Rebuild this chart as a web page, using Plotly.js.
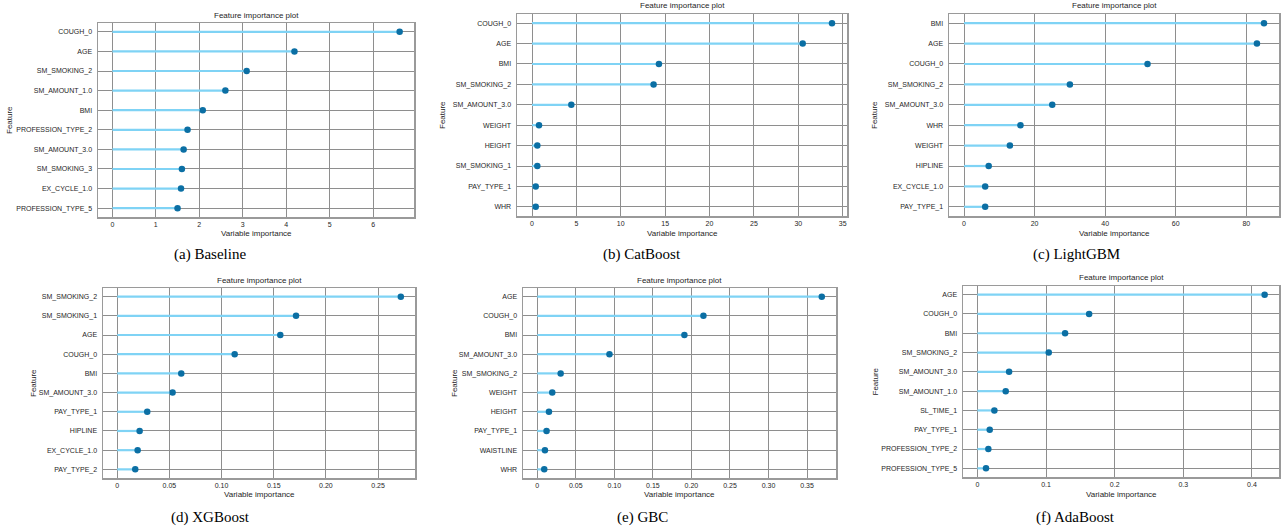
<!DOCTYPE html>
<html>
<head>
<meta charset="utf-8">
<script src="https://cdn.plot.ly/plotly-3.0.1.min.js"></script>
<style>html,body{margin:0;padding:0;background:#fff;}#chart{width:1284px;height:529px;}</style>
</head>
<body>
<div id="chart"></div>
<script>
// ---- data ----
const featA = ['COUGH_0','AGE','SM_SMOKING_2','SM_AMOUNT_1.0','BMI','PROFESSION_TYPE_2','SM_AMOUNT_3.0','SM_SMOKING_3','EX_CYCLE_1.0','PROFESSION_TYPE_5'];
const valA  = [6.61,4.19,3.09,2.60,2.08,1.73,1.64,1.60,1.58,1.50];
const featB = ['COUGH_0','AGE','BMI','SM_SMOKING_2','SM_AMOUNT_3.0','WEIGHT','HEIGHT','SM_SMOKING_1','PAY_TYPE_1','WHR'];
const valB  = [33.8,30.5,14.3,13.7,4.43,0.79,0.60,0.60,0.42,0.42];
const featC = ['BMI','AGE','COUGH_0','SM_SMOKING_2','SM_AMOUNT_3.0','WHR','WEIGHT','HIPLINE','EX_CYCLE_1.0','PAY_TYPE_1'];
const valC  = [85,83,52,30,25,16,13,7,6,6];
const featD = ['SM_SMOKING_2','SM_SMOKING_1','AGE','COUGH_0','BMI','SM_AMOUNT_3.0','PAY_TYPE_1','HIPLINE','EX_CYCLE_1.0','PAY_TYPE_2'];
const valD  = [0.2718,0.1714,0.1563,0.1126,0.0614,0.0531,0.0288,0.0215,0.0196,0.0173];
const featE = ['AGE','COUGH_0','BMI','SM_AMOUNT_3.0','SM_SMOKING_2','WEIGHT','HEIGHT','PAY_TYPE_1','WAISTLINE','WHR'];
const valE  = [0.3691,0.2156,0.1909,0.0937,0.0304,0.0195,0.0152,0.0121,0.0100,0.0091];
const featF = ['AGE','COUGH_0','BMI','SM_SMOKING_2','SM_AMOUNT_3.0','SM_AMOUNT_1.0','SL_TIME_1','PAY_TYPE_1','PROFESSION_TYPE_2','PROFESSION_TYPE_5'];
const valF  = [0.4185,0.1628,0.1278,0.1040,0.0462,0.0413,0.0248,0.0180,0.0160,0.0126];

const tickValsA = [0,1,2,3,4,5,6];            const tickTextA = ['0','1','2','3','4','5','6'];
const tickValsB = [0,5,10,15,20,25,30,35];    const tickTextB = ['0','5','10','15','20','25','30','35'];
const tickValsC = [0,20,40,60,80];            const tickTextC = ['0','20','40','60','80'];
const tickValsD = [0,0.05,0.10,0.15,0.20,0.25]; const tickTextD = ['0','0.05','0.10','0.15','0.20','0.25'];
const tickValsE = [0,0.05,0.10,0.15,0.20,0.25,0.30,0.35]; const tickTextE = ['0','0.05','0.10','0.15','0.20','0.25','0.30','0.35'];
const tickValsF = [0,0.1,0.2,0.3,0.4];        const tickTextF = ['0','0.1','0.2','0.3','0.4'];

const captions = ['(a) Baseline','(b) CatBoost','(c) LightGBM','(d) XGBoost','(e) GBC','(f) AdaBoost'];

// ---- layout geometry (pixels) ----
const W = 1284, H = 529;
const panels = [
  {feat:featA, val:valA, tv:tickValsA, tt:tickTextA, box:[98,414,23,217],   titleY:15,  xlabY:233, featX:10,  capX:210,  capY:255},
  {feat:featB, val:valB, tv:tickValsB, tt:tickTextB, box:[517,847,14,216],  titleY:6,   xlabY:233, featX:443, capX:642,  capY:255},
  {feat:featC, val:valC, tv:tickValsC, tt:tickTextC, box:[949,1279,14,216], titleY:6,   xlabY:233, featX:875, capX:1076, capY:255},
  {feat:featD, val:valD, tv:tickValsD, tt:tickTextD, box:[103,415,288,478], titleY:280, xlabY:494, featX:33,  capX:210,  capY:517},
  {feat:featE, val:valE, tv:tickValsE, tt:tickTextE, box:[523,836,288,478], titleY:280, xlabY:494, featX:454, capX:642,  capY:517},
  {feat:featF, val:valF, tv:tickValsF, tt:tickTextF, box:[963,1279,286,477], titleY:277, xlabY:494, featX:875, capX:1075, capY:517}
];

const STEM = '#7fd3f5', DOT = '#0b6fa4', GRID = '#8e8e8e', FRAME = '#9a9a9a', TXT = '#262626';
const sans = 'Liberation Sans, Arial, sans-serif';

const data = [];
const layout = {
  width: W, height: H,
  margin: {l:0, r:0, t:0, b:0},
  paper_bgcolor: '#fff', plot_bgcolor: '#fff',
  showlegend: false,
  annotations: []
};

panels.forEach((p, i) => {
  const n = i + 1;
  const xa = 'xaxis' + (n === 1 ? '' : n), ya = 'yaxis' + (n === 1 ? '' : n);
  const xr = 'x' + (n === 1 ? '' : n), yr = 'y' + (n === 1 ? '' : n);
  const maxV = Math.max(...p.val);
  const zeros = p.val.map(() => 0);
  data.push({
    type: 'scatter', mode: 'markers', x: p.val, y: p.feat, xaxis: xr, yaxis: yr,
    marker: {color: DOT, size: 6.5},
    error_x: {type: 'data', symmetric: false, array: zeros, arrayminus: p.val, color: STEM, thickness: 2.2, width: 0},
    hoverinfo: 'x+y'
  });
  const [x0, x1, y0, y1] = p.box;
  layout[xa] = {
    domain: [x0 / W, x1 / W], anchor: yr,
    range: [-0.05 * maxV, 1.05 * maxV],
    tickvals: p.tv, ticktext: p.tt, ticks: '',
    showgrid: true, gridcolor: GRID, gridwidth: 1, zeroline: false,
    showline: true, mirror: true, linecolor: FRAME, linewidth: 1.5,
    tickfont: {family: sans, size: 7, color: TXT}
  };
  layout[ya] = {
    domain: [1 - y1 / H, 1 - y0 / H], anchor: xr,
    type: 'category', categoryorder: 'array', categoryarray: p.feat.slice().reverse(),
    range: [-0.45, p.feat.length - 0.55],
    ticks: '', ticklabelstandoff: 3,
    showgrid: true, gridcolor: GRID, gridwidth: 1, zeroline: false,
    showline: true, mirror: true, linecolor: FRAME, linewidth: 1.5,
    tickfont: {family: sans, size: 7, color: TXT}
  };
  const cx = (x0 + x1) / 2 / W;
  layout.annotations.push(
    {text: 'Feature importance plot', xref: 'paper', yref: 'paper', x: cx, y: 1 - p.titleY / H,
     xanchor: 'center', yanchor: 'middle', showarrow: false, font: {family: sans, size: 8, color: TXT}},
    {text: 'Variable importance', xref: 'paper', yref: 'paper', x: cx, y: 1 - p.xlabY / H,
     xanchor: 'center', yanchor: 'middle', showarrow: false, font: {family: sans, size: 8, color: TXT}},
    {text: 'Feature', xref: 'paper', yref: 'paper', x: p.featX / W, y: 1 - (y0 + y1) / 2 / H,
     xanchor: 'center', yanchor: 'middle', textangle: -90, showarrow: false, font: {family: sans, size: 8, color: TXT}},
    {text: captions[i], xref: 'paper', yref: 'paper', x: p.capX / W, y: 1 - p.capY / H,
     xanchor: 'center', yanchor: 'middle', showarrow: false, font: {family: 'Liberation Serif, Times New Roman, serif', size: 15, color: '#000'}}
  );
});

Plotly.newPlot('chart', data, layout, {staticPlot: true, displayModeBar: false});
</script>
</body>
</html>
